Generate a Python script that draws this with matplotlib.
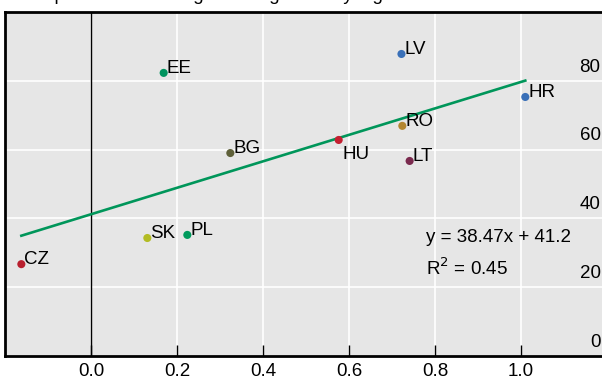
import matplotlib
matplotlib.use("Agg")
import matplotlib.pyplot as plt
import numpy as np

# data
countries = ["CZ", "SK", "PL", "EE", "BG", "HU", "LV", "RO", "LT", "HR"]
x_vals = [-0.162, 0.131, 0.224, 0.169, 0.324, 0.576, 0.722, 0.724, 0.741, 1.010]
y_vals = [26.7, 34.3, 35.2, 82.3, 59.0, 62.8, 87.8, 66.9, 56.7, 75.3]
colors = ["#b8202f", "#b3bc24", "#009a5c", "#00935e", "#5e6039", "#c41f30",
          "#3a70b8", "#b3862f", "#7a2a4e", "#3a70b8"]
slope = 38.47
intercept = 41.2
r2 = 0.45
xticks = [0.0, 0.2, 0.4, 0.6, 0.8, 1.0]
yticks = [0, 20, 40, 60, 80]

plt.rcParams["font.family"] = ["Liberation Sans", "DejaVu Sans"]
fs = 13.5

fig = plt.figure(figsize=(6.02, 3.8), dpi=100)
ax = fig.add_axes([5 / 602, 24 / 380, 602 / 602, 344 / 380])
ax.set_facecolor("#e6e6e6")
ax.set_xlim(-0.2, 1.2)
ax.set_ylim(0, 100)

# grid
for xv in xticks:
    ax.axvline(xv, color="white", lw=1.2, zorder=1)
for yv in yticks:
    ax.axhline(yv, color="white", lw=1.2, zorder=1)
ax.axvline(0, color="black", lw=1.0, zorder=2)

# trend line
xl = np.array([min(x_vals), max(x_vals)])
ax.plot(xl, slope * xl + intercept, color="#00965a", lw=1.9, zorder=3)

# points and labels
ax.scatter(x_vals, y_vals, c=colors, s=34, zorder=4, edgecolors="none")
for name, xv, yv in zip(countries, x_vals, y_vals):
    if name == "HU":
        ax.annotate(name, (xv, yv), xytext=(3, -4), textcoords="offset points",
                    fontsize=fs, va="top", ha="left", zorder=5)
    else:
        ax.annotate(name, (xv, yv), xytext=(2, 0), textcoords="offset points",
                    fontsize=fs, va="baseline", ha="left", zorder=5)

ax.text(0.78, 34.5, "y = %.2fx + %.1f" % (slope, intercept), fontsize=fs,
        va="center")
ax.text(0.78, 25.5, "R$^2$ = %.2f" % r2, fontsize=fs, va="center")

# axes styling
ax.spines["right"].set_visible(False)
for s in ["left", "top", "bottom"]:
    ax.spines[s].set_linewidth(2)
ax.set_xticks(xticks)
ax.set_xticklabels(["%.1f" % v for v in xticks])
ax.tick_params(axis="x", direction="in", length=8, width=1, labelsize=fs, pad=5)
ax.set_yticks([])
for yv in yticks:
    ax.text(1.185, yv + 1.5, str(yv), ha="right", va="bottom", fontsize=fs)

fig.text(0.025, 1.012, "Comparative advantage and significantly higher share",
         fontsize=fs, va="center", ha="left")

fig.savefig("out.png", dpi=100)
plt.close()
